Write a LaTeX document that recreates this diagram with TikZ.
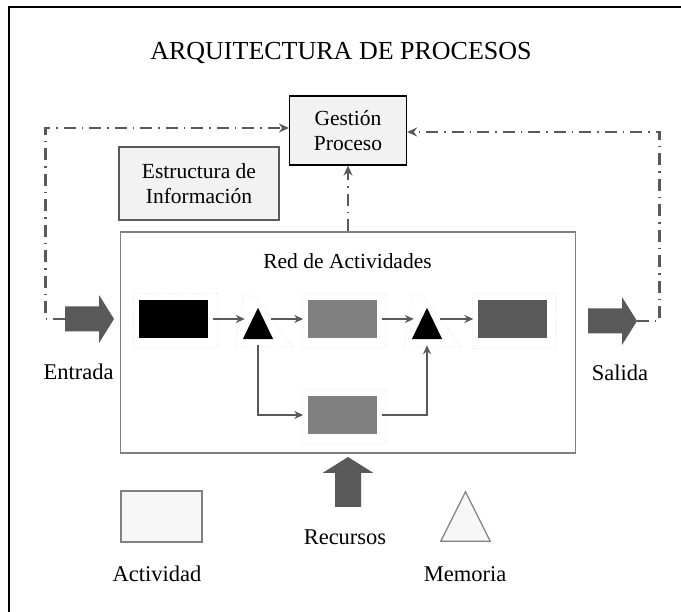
\documentclass[tikz,border=0pt]{standalone}
\usepackage{fontspec}
\setmainfont{Liberation Serif}
\usetikzlibrary{arrows.meta,calc}
\definecolor{dg}{HTML}{595959}
\definecolor{mg}{HTML}{808080}
\definecolor{lg}{HTML}{F2F2F2}
\begin{document}
\begin{tikzpicture}[x=1pt,y=-1pt,
  lbl/.style={font=\fontsize{22.5}{26}\selectfont, inner sep=0},
  infobox/.style={fill=lg, line width=1.2pt, align=center, font=\fontsize{21.5}{25}\selectfont, inner sep=0},
  actbox/.style={minimum width=69, minimum height=38, inner sep=0},
  holder/.style={inner sep=0, minimum width=#1, minimum height=#1},
  glow/.style={draw=gray!18, line width=1pt, dotted},
  conn/.style={draw=dg, line width=1.5pt, -{Stealth[length=9pt,width=8pt]}},
  dd/.style={draw=dg, line width=2.5pt, dash pattern=on 12pt off 6pt on 1.5pt off 6pt, -{Stealth[length=10pt,width=9pt]}}
]
\useasboundingbox (0,0) rectangle (681,612);
% frame
\draw[line width=2pt] (9,612) -- (9,7) -- (681,7);

% title
\node[font=\fontsize{26}{30}\selectfont, inner sep=0] (title) at (341,53) {ARQUITECTURA DE PROCESOS};

% boxes
\node[infobox, draw=black, minimum width=117, minimum height=69] (gest) at (348,130.5) {Gestión\\Proceso};
\node[infobox, draw=dg, minimum width=160, minimum height=73] (estr) at (199,183.5) {Estructura de\\Información};
\node[draw=mg, line width=1.5pt, minimum width=455, minimum height=221, inner sep=0] (red) at (348,342.5) {};
\node[font=\fontsize{21.5}{25}\selectfont, inner sep=0] (redlbl) at (347.5,261) {Red de Actividades};

% activities
\node[actbox, fill=black] (a1) at (173.5,319) {};
\node[actbox, fill=mg] (a2) at (342,319) {};
\node[actbox, fill=dg] (a3) at (512,319) {};
\node[actbox, fill=mg] (a4) at (342,415) {};

% faint glows round the activities
\draw[glow] ([shift={(-5pt,6pt)}]a1.north west) rectangle ([shift={(9pt,-10pt)}]a1.south east);
\draw[glow] ([shift={(-5pt,6pt)}]a2.north west) rectangle ([shift={(9pt,-10pt)}]a2.south east);
\draw[glow] ([shift={(-5pt,6pt)}]a3.north west) rectangle ([shift={(9pt,-10pt)}]a3.south east);
\draw[glow] ([shift={(-5pt,6pt)}]a4.north west) rectangle ([shift={(9pt,-10pt)}]a4.south east);

% memories (triangles)
\node[inner sep=0, minimum width=30, minimum height=31] (t1) at (258,323.5) {};
\node[inner sep=0, minimum width=30, minimum height=31] (t2) at (427,323.5) {};
\draw[glow] ([shift={(-14pt,14pt)}]t1.north) -- ([shift={(-2pt,10pt)}]t1.north) -- ([shift={(20pt,-8pt)}]t1.south east) -- ([shift={(-8pt,-8pt)}]t1.south west) -- cycle;
\draw[glow] ([shift={(-14pt,14pt)}]t2.north) -- ([shift={(-2pt,10pt)}]t2.north) -- ([shift={(20pt,-8pt)}]t2.south east) -- ([shift={(-8pt,-8pt)}]t2.south west) -- cycle;
\fill (t1.south west) -- (t1.south east) -- (t1.north) -- cycle;
\fill (t2.south west) -- (t2.south east) -- (t2.north) -- cycle;

% inner connectors
\draw[conn] ([xshift=5pt]a1.east) -- ($(a1.east -| t1.west)+(2,0)$);
\draw[conn] ($(a1.east -| t1.east)+(-2,0)$) -- ([xshift=-4pt]a2.west);
\draw[conn] ([xshift=5pt]a2.east) -- ($(a2.east -| t2.west)+(2,0)$);
\draw[conn] ($(a2.east -| t2.east)+(-2,0)$) -- ([xshift=-4pt]a3.west);
\draw[conn] ([yshift=-6pt]t1.south) |- ([xshift=-4pt]a4.west);
\draw[conn] ([xshift=5pt]a4.east) -| ([yshift=-6pt]t2.south);

% block arrows
\node[holder=48] (ent) at (89.5,319) {};
\fill[dg, shift={(ent.center)}] (-24.5,-12.5) -- (9.5,-12.5) -- (9.5,-24) -- (24.5,0) -- (9.5,24) -- (9.5,12.5) -- (-24.5,12.5) -- cycle;
\node[holder=48] (sal) at (612.5,321) {};
\fill[dg, shift={(sal.center)}] (-24.5,-12.5) -- (9.5,-12.5) -- (9.5,-24) -- (24.5,0) -- (9.5,24) -- (9.5,12.5) -- (-24.5,12.5) -- cycle;
\node[holder=50] (rec) at (348,482) {};
\fill[dg, shift={(rec.center)}] (-13,25) -- (-13,-9) -- (-25.5,-9) -- (0,-25) -- (25.5,-9) -- (13,-9) -- (13,25) -- cycle;

% dash-dot feedback
\draw[dd] (ent.west) -- ++(-20,0) |- ([yshift=2.5pt]gest.west);
\draw[dd] (sal.east) -- ++(23,0) |- ([yshift=-1.5pt]gest.east);
\draw[dd] (red.north) -- (gest.south);

% labels
\node[lbl] (entl) at (78.5,372) {Entrada};
\node[lbl] (sall) at (620,373) {Salida};
\node[lbl] (recl) at (345,537) {Recursos};

% legend
\node[draw=mg, fill=gray!6, line width=1.2pt, minimum width=81, minimum height=51, inner sep=0] (leg1) at (161.5,516.5) {};
\node[holder=49] (mem) at (465.5,516.5) {};
\draw[mg, fill=gray!6, line width=1.2pt] (mem.south west) -- (mem.south east) -- (mem.north) -- cycle;
\node[lbl] (actl) at (157,574) {Actividad};
\node[lbl] (meml) at (465,574) {Memoria};
\end{tikzpicture}
\end{document}
